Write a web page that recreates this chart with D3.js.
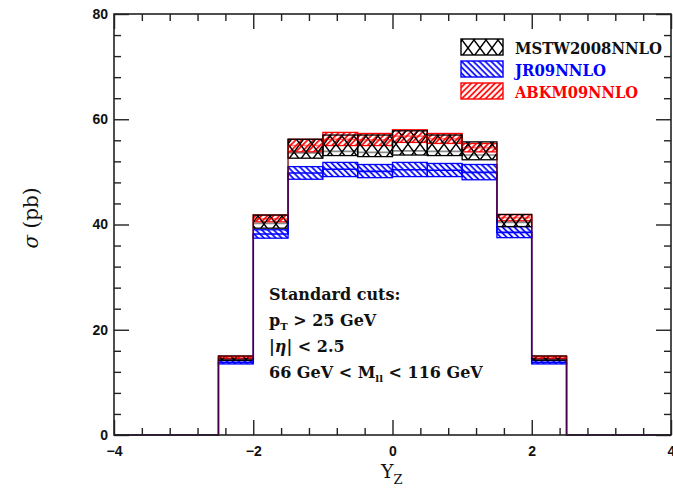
<!DOCTYPE html>
<html>
<head>
<meta charset="utf-8">
<script src="https://cdn.jsdelivr.net/npm/d3@7/dist/d3.min.js"></script>
<style>
html,body{margin:0;padding:0;background:#fff;}
svg{display:block;}
</style>
</head>
<body>
<svg id="chart" width="673" height="489"></svg>
<script>
// ---- data ----
const binEdges = [-2.5, -2, -1.5, -1, -0.5, 0, 0.5, 1, 1.5, 2, 2.5];
const seriesNames = ["MSTW2008NNLO", "JR09NNLO", "ABKM09NNLO"];
const mstwLo = [14.2, 39.3, 52.6, 53.1, 52.9, 53.2, 53.1, 52.3, 39.6, 14.2];
const mstwHi = [15.0, 41.8, 56.2, 57.0, 57.0, 57.8, 57.0, 55.7, 41.9, 15.0];
const mstwCentral = [14.4, 40.2, 53.6, 53.9, 53.7, 54.0, 53.9, 53.2, 40.4, 14.4];
const jrLo = [13.5, 37.4, 48.6, 49.1, 48.9, 49.1, 49.1, 48.5, 37.5, 13.5];
const jrHi = [14.2, 39.0, 51.0, 51.8, 51.4, 51.8, 51.6, 51.4, 39.6, 14.2];
const jrCentral = [13.8, 38.2, 49.8, 50.5, 50.1, 50.4, 50.3, 49.9, 38.5, 13.8];
const abkmLo = [14.5, 40.5, 53.8, 55.0, 55.0, 55.6, 55.4, 53.8, 40.7, 14.5];
const abkmHi = [15.0, 41.8, 56.2, 57.5, 57.3, 58.0, 57.3, 55.4, 41.9, 15.0];
const abkmCentral = [14.8, 41.1, 55.0, 56.2, 56.1, 56.8, 56.3, 54.6, 41.3, 14.8];
const xMajorTicks = [-4, -2, 0, 2, 4];
const xMinorTicks = [-3.6,-3.2,-2.8,-2.4,-1.6,-1.2,-0.8,-0.4,0.4,0.8,1.2,1.6,2.4,2.8,3.2,3.6];
const yMajorTicks = [0, 20, 40, 60, 80];
const yMinorTicks = [4,8,12,16,24,28,32,36,44,48,52,56,64,68,72,76];
const annotationLines = ["Standard cuts:", "pT > 25 GeV", "|η| < 2.5", "66 GeV < Mll < 116 GeV"];

// ---- layout ----
const svg = d3.select("#chart");
const L = 114, R = 671, T = 14, B = 435;
const x = d3.scaleLinear().domain([-4, 4]).range([L, R]);
const y = d3.scaleLinear().domain([0, 80]).range([B, T]);

// ---- patterns ----
const defs = svg.append("defs");
const cross = defs.append("pattern").attr("id", "pCross")
  .attr("patternUnits", "userSpaceOnUse").attr("width", 12).attr("height", 16)
  .attr("x", 0).attr("y", 0);
cross.append("path").attr("d", "M0,0L12,16M12,0L0,16")
  .attr("stroke", "#000").attr("stroke-width", 1.4).attr("fill", "none");
function hatch(id, color, angle) {
  const p = defs.append("pattern").attr("id", id)
    .attr("patternUnits", "userSpaceOnUse").attr("width", 4.2).attr("height", 4.2)
    .attr("patternTransform", `rotate(${angle})`);
  p.append("line").attr("x1", 1.5).attr("y1", 0).attr("x2", 1.5).attr("y2", 4.2)
    .attr("stroke", color).attr("stroke-width", 1.7);
}
hatch("pBlue", "#0000ff", -45);
hatch("pRed", "#ff0000", 45);

const series = [
  {name: seriesNames[1], lo: jrLo, hi: jrHi, c: jrCentral, color: "#0000ff", fill: "url(#pBlue)", lineOp: 1},
  {name: seriesNames[2], lo: abkmLo, hi: abkmHi, c: abkmCentral, color: "#ff0000", fill: "url(#pRed)", lineOp: 0.5},
  {name: seriesNames[0], lo: mstwLo, hi: mstwHi, c: mstwCentral, color: "#000000", fill: "url(#pCross)", lineOp: 0.45}
];

// ---- bands ----
series.forEach(s => {
  const bins = s.lo.map((v, i) => ({x0: binEdges[i], x1: binEdges[i + 1], lo: v, hi: s.hi[i]}));
  svg.append("g").selectAll("rect").data(bins).join("rect")
    .attr("x", d => x(d.x0)).attr("width", d => x(d.x1) - x(d.x0))
    .attr("y", d => y(d.hi)).attr("height", d => y(d.lo) - y(d.hi))
    .attr("fill", s.fill).attr("stroke", s.color).attr("stroke-width", 1.3);
});

// ---- step lines ----
series.forEach(s => {
  const pts = [[-4, 0]];
  s.c.forEach((v, i) => pts.push([binEdges[i], v]));
  pts.push([2.5, 0]);
  pts.push([4, 0]);
  const line = d3.line().x(d => x(d[0])).y(d => y(d[1])).curve(d3.curveStepAfter);
  svg.append("path").attr("d", line(pts)).attr("fill", "none")
    .attr("stroke", s.color).attr("stroke-opacity", s.lineOp).attr("stroke-width", 1.6);
});

// ---- axes ----
const axCol = "#222";
function styleAxis(g) {
  g.select(".domain").remove();
  g.selectAll(".tick line").attr("stroke", axCol).attr("stroke-width", 1.4);
  g.selectAll(".tick text").attr("fill", "#111")
    .style("font-family", "'Liberation Sans', Arial, sans-serif")
    .style("font-weight", "bold").style("font-size", "14px");
}
svg.append("g").attr("transform", `translate(0,${B})`)
  .call(d3.axisBottom(x).tickValues(xMajorTicks).tickSize(-15).tickPadding(11).tickFormat(d3.format("d")))
  .call(styleAxis);
svg.append("g").attr("transform", `translate(0,${B})`)
  .call(d3.axisBottom(x).tickValues(xMinorTicks).tickSize(-7).tickFormat(""))
  .call(styleAxis);
svg.append("g").attr("transform", `translate(0,${T})`)
  .call(d3.axisTop(x).tickValues(xMajorTicks).tickSize(-15).tickFormat(""))
  .call(styleAxis);
svg.append("g").attr("transform", `translate(0,${T})`)
  .call(d3.axisTop(x).tickValues(xMinorTicks).tickSize(-7).tickFormat(""))
  .call(styleAxis);
svg.append("g").attr("transform", `translate(${L},0)`)
  .call(d3.axisLeft(y).tickValues(yMajorTicks).tickSize(-15).tickPadding(6).tickFormat(d3.format("d")))
  .call(styleAxis);
svg.append("g").attr("transform", `translate(${L},0)`)
  .call(d3.axisLeft(y).tickValues(yMinorTicks).tickSize(-7).tickFormat(""))
  .call(styleAxis);
svg.append("g").attr("transform", `translate(${R},0)`)
  .call(d3.axisRight(y).tickValues(yMajorTicks).tickSize(-15).tickFormat(""))
  .call(styleAxis);
svg.append("g").attr("transform", `translate(${R},0)`)
  .call(d3.axisRight(y).tickValues(yMinorTicks).tickSize(-7).tickFormat(""))
  .call(styleAxis);
svg.append("rect").attr("x", L).attr("y", T).attr("width", R - L).attr("height", B - T)
  .attr("fill", "none").attr("stroke", axCol).attr("stroke-width", 1.6);

// ---- axis titles ----
const serif = "'DejaVu Serif', 'Liberation Serif', serif";
const yt = svg.append("text").attr("transform", "translate(38,218) rotate(-90)")
  .attr("text-anchor", "middle").style("font-family", serif).style("font-size", "20px").attr("fill", "#111");
yt.append("tspan").style("font-style", "italic").text("σ");
yt.append("tspan").text(" (pb)");
const xt = svg.append("text").attr("x", 381).attr("y", 478)
  .style("font-family", serif).style("font-size", "19px").attr("fill", "#111");
xt.append("tspan").text("Y");
xt.append("tspan").attr("dy", 6).style("font-size", "13px").text("Z");

// ---- legend ----
const legendItems = [
  {name: seriesNames[0], fill: "url(#pCross)", color: "#000", tc: "#111", w: 147},
  {name: seriesNames[1], fill: "url(#pBlue)", color: "#0000ff", tc: "#0000ff", w: 91},
  {name: seriesNames[2], fill: "url(#pRed)", color: "#ff0000", tc: "#ff0000", w: 123}
];
legendItems.forEach((d, i) => {
  const yy = 39 + i * 22;
  svg.append("rect").attr("x", 461).attr("y", yy).attr("width", 42).attr("height", 16)
    .attr("fill", d.fill).attr("stroke", d.color).attr("stroke-width", 1.4);
  svg.append("text").attr("x", 515).attr("y", yy + 15).text(d.name)
    .attr("textLength", d.w).attr("lengthAdjust", "spacingAndGlyphs")
    .style("font-family", serif).style("font-size", "16px").style("font-weight", "bold")
    .attr("fill", d.tc);
});

// ---- annotation ----
const ann = svg.append("g").style("font-family", serif).style("font-size", "16px").attr("fill", "#111")
  .style("font-weight", "bold");
ann.append("text").attr("x", 269).attr("y", 300).text(annotationLines[0]);
const a1 = ann.append("text").attr("x", 269).attr("y", 326);
a1.append("tspan").text("p");
a1.append("tspan").attr("dy", 4).style("font-size", "10px").text("T");
a1.append("tspan").attr("dy", -4).text(" > 25 GeV");
const a2 = ann.append("text").attr("x", 269).attr("y", 352);
a2.append("tspan").text("|");
a2.append("tspan").style("font-style", "italic").text("η");
a2.append("tspan").text("| < 2.5");
const a3 = ann.append("text").attr("x", 269).attr("y", 378);
a3.append("tspan").text("66 GeV < M");
a3.append("tspan").attr("dy", 4).style("font-size", "10px").text("ll");
a3.append("tspan").attr("dy", -4).text(" < 116 GeV");
</script>
</body>
</html>
